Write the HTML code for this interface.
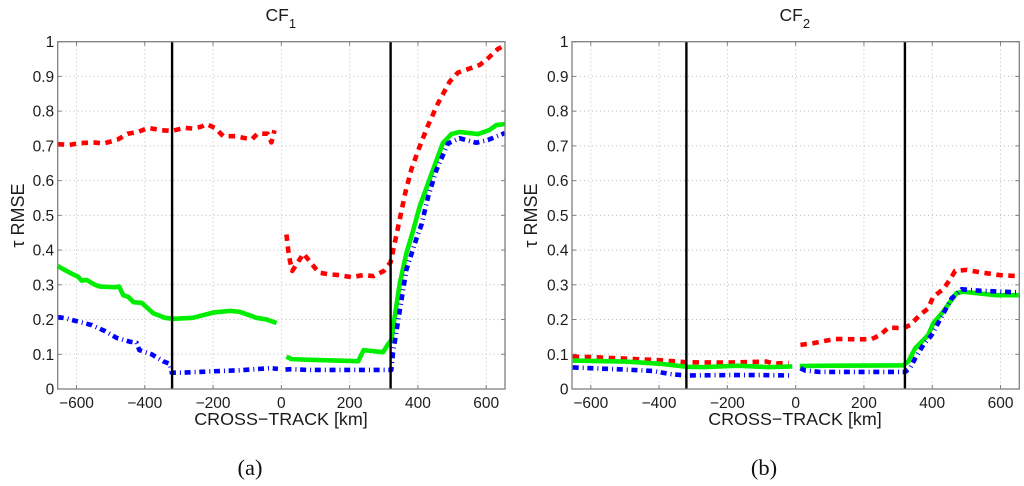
<!DOCTYPE html>
<html lang="en">
<head>
<meta charset="utf-8">
<title>CF1 and CF2 tau RMSE vs cross-track</title>
<style>
html,body{margin:0;padding:0;background:#fff;width:1024px;height:486px;overflow:hidden}
svg{display:block;filter:blur(0.35px)}
text{font-family:"Liberation Sans",sans-serif;fill:#1c1c1c}
</style>
</head>
<body>
<svg id="chart" xmlns="http://www.w3.org/2000/svg" width="1024" height="486" viewBox="0 0 1024 486">
  <g id="panel1"></g>
  <g id="panel2"></g>
  <text x="265.5" y="21" font-size="17.5">CF<tspan dy="7" font-size="13">1</tspan></text>
  <text x="779.5" y="21" font-size="17.5">CF<tspan dy="7" font-size="13">2</tspan></text>
  <text x="281" y="425" font-size="17.9" text-anchor="middle">CROSS−TRACK [km]</text>
  <text x="795" y="425" font-size="17.9" text-anchor="middle">CROSS−TRACK [km]</text>
  <text transform="translate(24,215.5) rotate(-90)" font-size="18" text-anchor="middle">τ RMSE</text>
  <text transform="translate(537,215.5) rotate(-90)" font-size="18" text-anchor="middle">τ RMSE</text>
  <text x="250" y="475" font-size="22.5" text-anchor="middle" style="font-family:'Liberation Serif',serif;fill:#111">(a)</text>
  <text x="764" y="475" font-size="22.5" text-anchor="middle" style="font-family:'Liberation Serif',serif;fill:#111">(b)</text>
</svg>
<script>
const xTicks = [-600, -400, -200, 0, 200, 400, 600];
const yTicks = [0, 0.1, 0.2, 0.3, 0.4, 0.5, 0.6, 0.7, 0.8, 0.9, 1];
const yTickLabels = ['0', '0.1', '0.2', '0.3', '0.4', '0.5', '0.6', '0.7', '0.8', '0.9', '1'];
const xDomain = [-655, 655];
const yDomain = [0, 1];
const swathEdges = [-320, 320];

// null marks the gap in the data around nadir
const cf1RedKm = [-655, -620, -590, -550, -520, -480, -450, -420, -390, -350, -320, -285, -260, -235, -220, -195, -170, -135, -105, -85, -70, -40, -29, -20, null, 15, 20, 25, 32, 45, 65, 85, 110, 140, 170, 205, 240, 270, 300, 320, 335, 363, 381, 405, 430, 459, 493, 517, 552, 581, 605, 634, 655];
const cf1RedTau = [0.705, 0.703, 0.708, 0.71, 0.707, 0.718, 0.735, 0.74, 0.752, 0.745, 0.743, 0.752, 0.75, 0.755, 0.763, 0.752, 0.728, 0.728, 0.722, 0.72, 0.735, 0.735, 0.71, 0.745, null, 0.445, 0.4, 0.37, 0.34, 0.36, 0.39, 0.365, 0.335, 0.33, 0.328, 0.322, 0.328, 0.325, 0.34, 0.365, 0.434, 0.565, 0.633, 0.698, 0.76, 0.823, 0.885, 0.911, 0.923, 0.933, 0.952, 0.979, 0.99];

const cf1GreenKm = [-655, -620, -595, -585, -570, -546, -531, -488, -475, -463, -448, -433, -409, -375, -341, -317, -259, -200, -150, -121, -73, -43, -14, null, 15, 30, 83, 225, 241, 298, 311, 322, 332, 347, 366, 385, 405, 440, 473, 498, 522, 576, 610, 630, 655];
const cf1GreenTau = [0.354, 0.335, 0.323, 0.312, 0.314, 0.3, 0.295, 0.293, 0.295, 0.27, 0.265, 0.25, 0.248, 0.218, 0.205, 0.202, 0.205, 0.22, 0.225, 0.222, 0.205, 0.2, 0.19, null, 0.093, 0.086, 0.084, 0.08, 0.112, 0.106, 0.127, 0.14, 0.208, 0.305, 0.39, 0.453, 0.525, 0.62, 0.708, 0.734, 0.74, 0.734, 0.746, 0.76, 0.763];

const cf1BlueKm = [-655, -633, -595, -555, -517, -482, -443, -424, -416, -380, -346, -326, -321, -288, -200, -121, -33, -10, null, 12, 30, 75, 322, 327, 347, 366, 396, 410, 430, 454, 488, 522, 571, 605, 655];
const cf1BlueTau = [0.207, 0.204, 0.194, 0.184, 0.167, 0.147, 0.136, 0.133, 0.112, 0.1, 0.08, 0.072, 0.047, 0.047, 0.051, 0.054, 0.06, 0.058, null, 0.056, 0.057, 0.055, 0.055, 0.104, 0.227, 0.343, 0.434, 0.472, 0.554, 0.63, 0.707, 0.722, 0.709, 0.717, 0.737];

const cf2RedKm = [-653, -600, -400, -320, -200, -85, -65, -20, null, 14, 52, 82, 116, 189, 223, 247, 272, 315, 335, 364, 388, 403, 432, 452, 467, 501, 540, 598, 653];
const cf2RedTau = [0.093, 0.092, 0.083, 0.077, 0.076, 0.079, 0.073, 0.075, null, 0.127, 0.132, 0.138, 0.144, 0.143, 0.144, 0.155, 0.177, 0.175, 0.184, 0.213, 0.232, 0.266, 0.287, 0.315, 0.34, 0.343, 0.336, 0.328, 0.325];

const cf2GreenKm = [-653, -500, -400, -320, -270, -170, -80, -10, null, 12, 100, 315, 330, 350, 388, 403, 432, 471, 490, 588, 653];
const cf2GreenTau = [0.082, 0.079, 0.073, 0.064, 0.063, 0.067, 0.063, 0.065, null, 0.066, 0.067, 0.068, 0.079, 0.117, 0.155, 0.189, 0.223, 0.276, 0.28, 0.27, 0.27];

const cf2BlueKm = [-653, -500, -420, -360, -320, -200, -100, -15, null, 14, 28, 72, 286, 320, 335, 350, 374, 398, 423, 457, 486, 540, 653];
const cf2BlueTau = [0.062, 0.056, 0.052, 0.042, 0.039, 0.04, 0.04, 0.039, null, 0.06, 0.053, 0.049, 0.049, 0.049, 0.06, 0.088, 0.127, 0.155, 0.2, 0.261, 0.287, 0.283, 0.278];

const NS = 'http://www.w3.org/2000/svg';

function mk(parent, tag, attrs) {
  const el = document.createElementNS(NS, tag);
  for (const k in attrs) el.setAttribute(k, attrs[k]);
  parent.appendChild(el);
  return el;
}

function drawPanel(group, box, prefix, red, green, blue) {
  const sx = v => box.l + (v - xDomain[0]) / (xDomain[1] - xDomain[0]) * (box.r - box.l);
  const sy = v => box.b - (v - yDomain[0]) / (yDomain[1] - yDomain[0]) * (box.b - box.t);

  xTicks.forEach(t => {
    const x = sx(t);
    const grid = mk(group, 'line', {x1: x, x2: x, y1: box.t, y2: box.b, stroke: '#bdbdbd', 'stroke-width': 1, 'stroke-dasharray': '1 3'});
    
    
    const tickB = mk(group, 'line', {x1: x, x2: x, y1: box.b, y2: box.b - 4, stroke: '#808080', 'stroke-width': 1});
    
    
    const tickT = mk(group, 'line', {x1: x, x2: x, y1: box.t, y2: box.t + 4, stroke: '#808080', 'stroke-width': 1});
    
    
    const label = mk(group, 'text', {x: x, y: 408, 'font-size': 15.5, 'text-anchor': 'middle'});
    
    
    label.textContent = String(t).replace('-', '−');
  });

  yTicks.forEach((t, i) => {
    const y = sy(t);
    if (t > 0 && t < 1) {
      const grid = mk(group, 'line', {x1: box.l, x2: box.r, y1: y, y2: y, stroke: '#bdbdbd', 'stroke-width': 1, 'stroke-dasharray': '1 3'});
      
      
    }
    const tickL = mk(group, 'line', {x1: box.l, x2: box.l + 4, y1: y, y2: y, stroke: '#808080', 'stroke-width': 1});
    
    
    const tickR = mk(group, 'line', {x1: box.r, x2: box.r - 4, y1: y, y2: y, stroke: '#808080', 'stroke-width': 1});
    
    
    const label = mk(group, 'text', {x: box.l - 3.5, y: y + 5.5, 'font-size': 15.5, 'text-anchor': 'end'});
    
    
    label.textContent = yTickLabels[i];
  });

  const pathFor = (kms, taus) => {
    let d = '';
    let pen = false;
    kms.forEach((k, i) => {
      if (k === null || taus[i] === null) { pen = false; return; }
      d += (pen ? 'L' : 'M') + sx(k).toFixed(2) + ' ' + sy(taus[i]).toFixed(2);
      pen = true;
    });
    return d;
  };

  const redLine = mk(group, 'path', {d: pathFor(red[0], red[1]), fill: 'none', stroke: '#ff0000', 'stroke-width': 4.6, 'stroke-dasharray': '6.5 5.5', 'stroke-linejoin': 'round'});
  
  

  const greenLine = mk(group, 'path', {d: pathFor(green[0], green[1]), fill: 'none', stroke: '#00ee00', 'stroke-width': 4.6, 'stroke-linejoin': 'round'});
  
  

  const blueLine = mk(group, 'path', {d: pathFor(blue[0], blue[1]), fill: 'none', stroke: '#0000ff', 'stroke-width': 4.6, 'stroke-dasharray': '6 4 1 3.7', 'stroke-linejoin': 'round'});
  
  

  swathEdges.forEach(e => {
    const edge = mk(group, 'line', {x1: sx(e), x2: sx(e), y1: box.t, y2: box.b, stroke: '#000', 'stroke-width': 2.4});
    
    
  });

  const frame = mk(group, 'rect', {x: box.l, y: box.t, width: box.r - box.l, height: box.b - box.t, fill: 'none', stroke: '#808080', 'stroke-width': 1.3});
  
  
}

drawPanel(document.getElementById('panel1'), {l: 57.7, r: 505, t: 41.7, b: 389}, 'cf1',
  [cf1RedKm, cf1RedTau], [cf1GreenKm, cf1GreenTau], [cf1BlueKm, cf1BlueTau]);
drawPanel(document.getElementById('panel2'), {l: 572, r: 1019.3, t: 41.7, b: 389}, 'cf2',
  [cf2RedKm, cf2RedTau], [cf2GreenKm, cf2GreenTau], [cf2BlueKm, cf2BlueTau]);
</script>
</body>
</html>
